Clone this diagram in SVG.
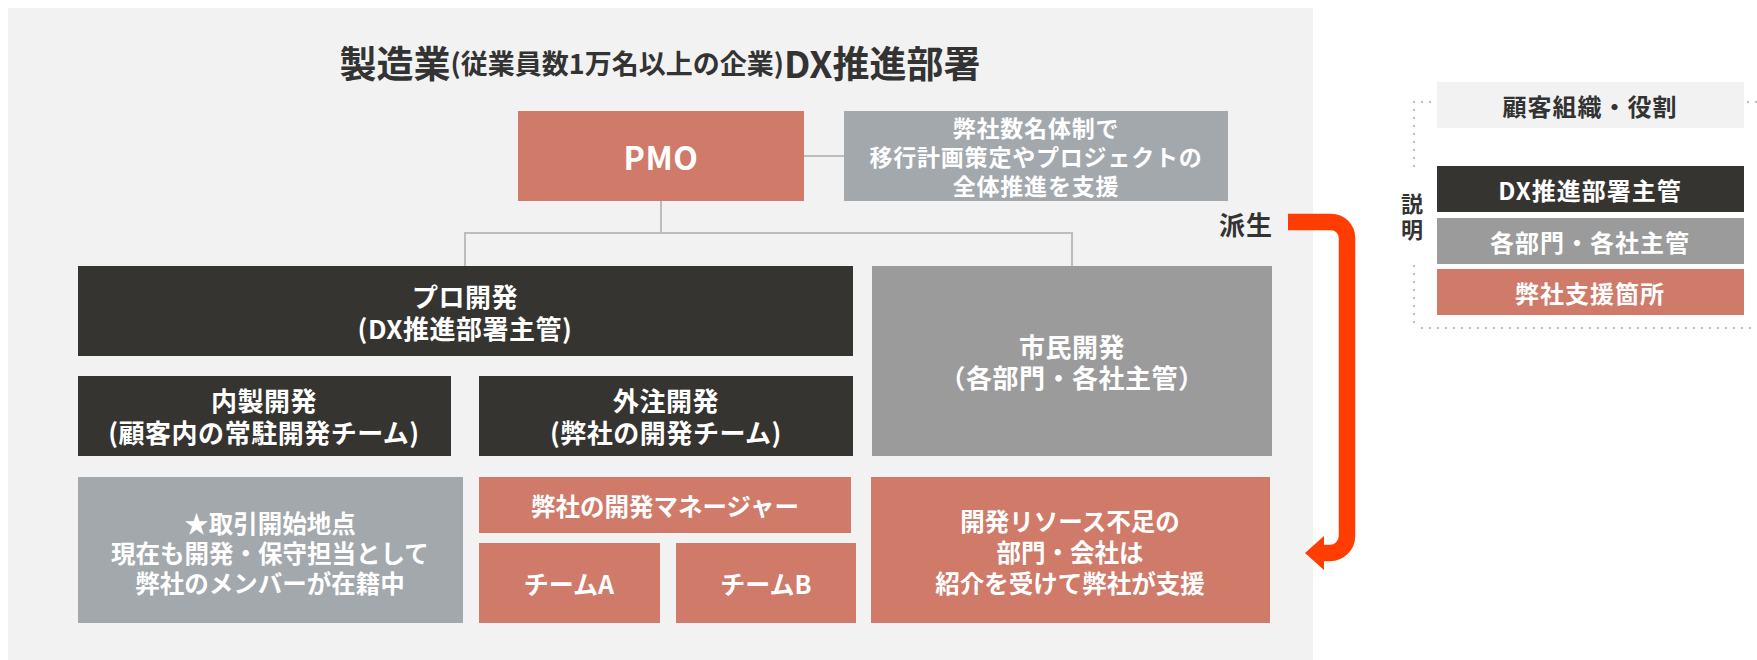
<svg xmlns="http://www.w3.org/2000/svg" width="1757" height="660" viewBox="0 0 1757 660">
<style>
text{font-family:"Noto Sans CJK JP","Noto Sans",sans-serif;font-weight:bold;text-anchor:middle;dominant-baseline:central}
.w{fill:#ffffff}
.d{fill:#333333}
.n{font-size:26px;letter-spacing:0.5px}
.b{font-size:24.5px}
.s{font-size:23px;letter-spacing:0.8px}
.lg{font-size:24px;letter-spacing:1px}
.red{fill:#d07a6a}
.dark{fill:#363430}
.gray{fill:#9b9b9b}
.bgray{fill:#a3a8ad}
.conn{stroke:#bdbdbd;stroke-width:2;fill:none}
.dot{stroke:#a8a8a8;stroke-width:2;stroke-linecap:round;stroke-dasharray:0 8;fill:none}
</style>
<rect x="8" y="8" width="1305" height="652" fill="#f2f2f2"/>
<text class="d" x="660" y="62" style="font-size:37px">製造業<tspan style="font-size:27px">(従業員数1万名以上の企業)</tspan>DX推進部署</text>

<g id="connectors">
<line class="conn" x1="804" y1="156" x2="844" y2="156"/>
<path class="conn" d="M661,201 V233 M465,233 H1072 M465,232 V266 M1072,232 V266"/>
<path d="M1288,222 H1331 A16,16 0 0 1 1347,238 V536 A17,17 0 0 1 1330,553 H1320" fill="none" stroke="#ff3d00" stroke-width="16.5"/>
<polygon points="1305,553 1324,536 1324,570" fill="#ff3d00"/>
</g>

<g id="pmo"><rect class="red" x="518" y="111" width="286" height="90"/><text class="w" x="661" y="156" style="font-size:32px;letter-spacing:0.5px">PMO</text></g>
<g id="pmo-support"><rect class="bgray" x="844" y="111" width="384" height="90"/>
<text class="w s" x="1036" y="127">弊社数名体制で</text>
<text class="w s" x="1036" y="156">移行計画策定やプロジェクトの</text>
<text class="w s" x="1036" y="185">全体推進を支援</text></g>
<g id="hasei"><text class="d" x="1246" y="223" style="font-size:26px;letter-spacing:1px">派生</text></g>

<g id="pro"><rect class="dark" x="78" y="266" width="775" height="90"/>
<text class="w n" x="465" y="295">プロ開発</text>
<text class="w n" x="465" y="327">(DX推進部署主管)</text></g>
<g id="shimin"><rect class="gray" x="872" y="266" width="400" height="190"/>
<text class="w n" x="1072" y="345">市民開発</text>
<text class="w n" x="1072" y="376">（各部門・各社主管）</text></g>
<g id="naisei"><rect class="dark" x="78" y="376" width="373" height="80"/>
<text class="w n" x="264" y="399">内製開発</text>
<text class="w n" x="264" y="431">(顧客内の常駐開発チーム)</text></g>
<g id="gaichu"><rect class="dark" x="479" y="376" width="374" height="80"/>
<text class="w n" x="666" y="399">外注開発</text>
<text class="w n" x="666" y="431">(弊社の開発チーム)</text></g>

<g id="start"><rect class="bgray" x="78" y="477" width="385" height="146"/>
<text class="w b" x="270" y="522">★取引開始地点</text>
<text class="w b" x="270" y="552">現在も開発・保守担当として</text>
<text class="w b" x="270" y="582">弊社のメンバーが在籍中</text></g>
<g id="manager"><rect class="red" x="479" y="477" width="372" height="56"/>
<text class="w b" x="665" y="505">弊社の開発マネージャー</text></g>
<g id="teamA"><rect class="red" x="479" y="543" width="181" height="80"/>
<text class="w b" x="569" y="583" style="font-size:25px">チームA</text></g>
<g id="teamB"><rect class="red" x="676" y="543" width="180" height="80"/>
<text class="w b" x="766" y="583" style="font-size:25px">チームB</text></g>
<g id="resource"><rect class="red" x="871" y="477" width="399" height="146"/>
<text class="w b" x="1070" y="520">開発リソース不足の</text>
<text class="w b" x="1070" y="551">部門・会社は</text>
<text class="w b" x="1070" y="582">紹介を受けて弊社が支援</text></g>

<g id="legend">
<path class="dot" d="M1414,102 H1437 M1748,102 H1757 M1414,110 V168 M1414,266 V328 M1422,328 H1757"/>
<rect x="1437" y="82" width="307" height="46" fill="#f2f2f2"/>
<text class="d lg" x="1590" y="105">顧客組織・役割</text>
<text class="d" x="1412" y="202" style="font-size:22px">説</text>
<text class="d" x="1412" y="228" style="font-size:22px">明</text>
<g id="legend-dx"><rect class="dark" x="1437" y="166" width="307" height="46"/><text class="w lg" x="1590" y="189">DX推進部署主管</text></g>
<g id="legend-dept"><rect class="gray" x="1437" y="218" width="307" height="46"/><text class="w lg" x="1590" y="241">各部門・各社主管</text></g>
<g id="legend-support"><rect class="red" x="1437" y="269" width="307" height="46"/><text class="w lg" x="1590" y="292">弊社支援箇所</text></g>
</g>
</svg>
